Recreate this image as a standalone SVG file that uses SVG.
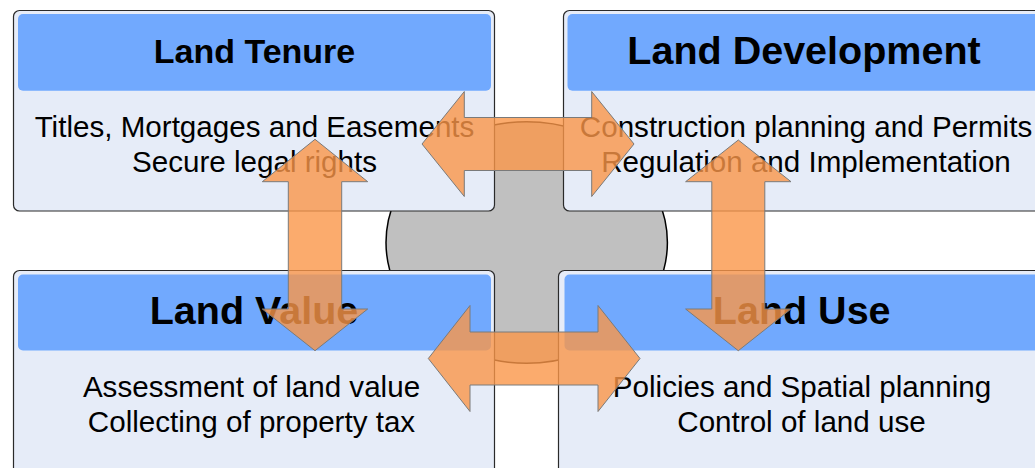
<svg xmlns="http://www.w3.org/2000/svg" width="1035" height="468" viewBox="0 0 1035 468">
<style>
.box{fill:#E6ECF8;stroke:#2a2a2a;stroke-width:1.2}
.hdr{fill:#71A9FE}
.ttl{font-family:"Liberation Sans",Arial,sans-serif;font-weight:bold;text-anchor:middle;fill:#000}
.body{font-family:"Liberation Sans",Arial,sans-serif;font-size:29.6px;text-anchor:middle;fill:#000}
.arr{fill:#FA9648;fill-opacity:0.8;stroke:#7a7a7a;stroke-width:1}
</style>
<rect width="1035" height="468" fill="#fff"/>
<ellipse id="center" cx="526.7" cy="242.5" rx="140.7" ry="120.8" fill="#C0C0C0" stroke="#000" stroke-width="1.5"/>
<g id="land-tenure">
<rect class="box" x="13.5" y="10.5" width="481" height="200.5" rx="6"/>
<rect class="hdr" x="18" y="14" width="473" height="76.7" rx="5"/>
<text class="ttl" x="254.5" y="62.7" font-size="34">Land Tenure</text>
<text class="body" x="254.5" y="136.5">Titles, Mortgages and Easements</text>
<text class="body" x="254.5" y="171.5">Secure legal rights</text>
</g>
<g id="land-development">
<rect class="box" x="563.5" y="10.5" width="481" height="200.5" rx="6"/>
<rect class="hdr" x="567.5" y="14" width="473" height="76.7" rx="5"/>
<text class="ttl" x="804" y="64" font-size="39.5">Land Development</text>
<text class="body" x="806" y="137">Construction planning and Permits</text>
<text class="body" x="806" y="172">Regulation and Implementation</text>
</g>
<g id="land-value">
<rect class="box" x="13.5" y="270.5" width="481" height="220" rx="6"/>
<rect class="hdr" x="18" y="274.5" width="473" height="76" rx="5"/>
<text class="ttl" x="254" y="324.3" font-size="39.5">Land Value</text>
<text class="body" x="251.5" y="396.7">Assessment of land value</text>
<text class="body" x="251.5" y="431.7">Collecting of property tax</text>
</g>
<g id="land-use">
<rect class="box" x="558.5" y="270.5" width="485" height="220" rx="6"/>
<rect class="hdr" x="564.5" y="274.5" width="476" height="76" rx="5"/>
<text class="ttl" x="801.7" y="323.5" font-size="39.5">Land Use</text>
<text class="body" x="802" y="396.7">Policies and Spatial planning</text>
<text class="body" x="801.5" y="432">Control of land use</text>
</g>
<g id="connectors">
<polygon class="arr" points="422,144 464.3,91.5 464.3,117.5 591.7,117.5 591.7,91.5 634,144 591.7,196.5 591.7,170.5 464.3,170.5 464.3,196.5"/>
<polygon class="arr" points="428.3,358.5 470,305.5 470,332 598,332 598,305.5 640,358.5 598,411.5 598,385 470,385 470,411.5"/>
<polygon class="arr" points="315,139.3 367.7,181.7 341.7,181.7 341.7,309 367.7,309 315,350.7 262.3,309 288.3,309 288.3,181.7 262.3,181.7"/>
<polygon class="arr" points="738.3,140 791,181.7 764.8,181.7 764.8,309 791,309 738.3,350.7 685.6,309 711.8,309 711.8,181.7 685.6,181.7"/>
</g>
</svg>
